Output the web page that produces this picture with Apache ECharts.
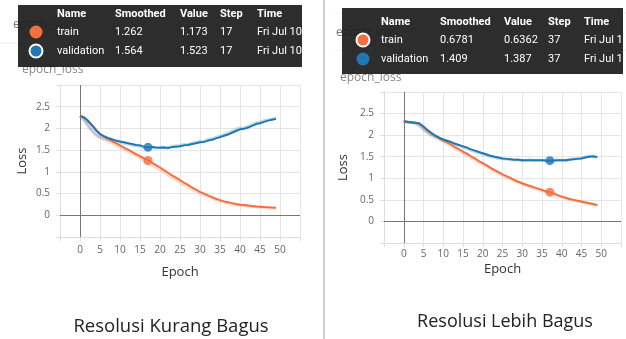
<!DOCTYPE html>
<html><head><meta charset="utf-8">
<script src="https://cdn.jsdelivr.net/npm/echarts@6/dist/echarts.min.js"></script>
<style>html,body{margin:0;padding:0;background:#fff}#c{width:626px;height:339px}</style>
</head><body><div id="c"></div>
<script>
// ---- data ----
const epochs = Array.from({length: 50}, (_, i) => i);
const xTickLabels = [0, 5, 10, 15, 20, 25, 30, 35, 40, 45, 50];
const yTickLabels = [0, 0.5, 1, 1.5, 2, 2.5];

// left panel (Resolusi Kurang Bagus)
const leftTrainSmoothed = [2.29,2.26,2.18,2.08,1.97,1.87,1.81,1.76,1.71,1.66,1.61,1.56,1.51,1.46,1.41,1.36,1.31,1.262,1.21,1.155,1.10,1.04,0.98,0.92,0.865,0.81,0.75,0.70,0.64,0.59,0.54,0.50,0.46,0.42,0.38,0.35,0.32,0.30,0.28,0.26,0.245,0.235,0.225,0.215,0.205,0.198,0.19,0.183,0.177,0.172];
const leftValSmoothed = [2.29,2.25,2.17,2.07,1.96,1.87,1.82,1.78,1.75,1.72,1.70,1.68,1.66,1.64,1.62,1.61,1.58,1.564,1.57,1.56,1.555,1.56,1.55,1.57,1.58,1.59,1.61,1.62,1.64,1.66,1.68,1.69,1.72,1.74,1.77,1.80,1.83,1.86,1.90,1.94,1.98,1.99,2.02,2.06,2.10,2.12,2.15,2.18,2.20,2.22];
const leftTrainRaw = [2.30,2.20,2.06,1.93,1.84,1.79,1.74,1.70,1.66,1.61,1.57,1.52,1.47,1.42,1.37,1.32,1.25,1.173,1.16,1.10,1.05,0.99,0.93,0.87,0.81,0.76,0.70,0.65,0.60,0.55,0.51,0.47,0.43,0.39,0.35,0.32,0.30,0.28,0.26,0.245,0.23,0.225,0.21,0.205,0.195,0.19,0.182,0.176,0.17,0.165];
const leftValRaw = [2.28,2.20,2.08,1.96,1.87,1.80,1.77,1.74,1.72,1.69,1.68,1.66,1.64,1.61,1.60,1.59,1.55,1.523,1.58,1.55,1.56,1.57,1.55,1.59,1.60,1.60,1.63,1.63,1.66,1.68,1.70,1.70,1.75,1.76,1.80,1.83,1.86,1.89,1.94,1.98,2.01,2.01,2.05,2.09,2.13,2.14,2.18,2.20,2.22,2.24];
const leftStep = 17;

// right panel (Resolusi Lebih Bagus)
const rightTrainSmoothed = [2.31,2.30,2.29,2.28,2.26,2.19,2.11,2.04,1.98,1.93,1.88,1.83,1.78,1.72,1.67,1.62,1.57,1.51,1.46,1.40,1.35,1.30,1.24,1.19,1.14,1.09,1.05,1.01,0.96,0.92,0.885,0.85,0.82,0.79,0.76,0.73,0.70,0.678,0.65,0.61,0.575,0.55,0.52,0.50,0.48,0.46,0.44,0.42,0.40,0.38];
const rightValSmoothed = [2.32,2.31,2.30,2.29,2.27,2.20,2.12,2.05,1.99,1.94,1.90,1.87,1.84,1.80,1.77,1.74,1.71,1.67,1.64,1.61,1.58,1.55,1.52,1.50,1.48,1.46,1.45,1.44,1.43,1.43,1.42,1.42,1.42,1.42,1.42,1.42,1.41,1.409,1.41,1.42,1.42,1.42,1.43,1.44,1.45,1.46,1.48,1.50,1.51,1.49];
const rightTrainRaw = [2.32,2.30,2.29,2.27,2.22,2.13,2.06,2.00,1.95,1.90,1.85,1.80,1.75,1.69,1.64,1.59,1.54,1.48,1.43,1.37,1.32,1.27,1.21,1.16,1.11,1.07,1.02,0.98,0.94,0.90,0.86,0.83,0.80,0.77,0.74,0.71,0.68,0.6362,0.62,0.59,0.56,0.53,0.51,0.49,0.47,0.45,0.43,0.41,0.39,0.37];
const rightValRaw = [2.32,2.30,2.29,2.28,2.23,2.14,2.07,2.01,1.96,1.92,1.88,1.85,1.82,1.78,1.75,1.72,1.69,1.65,1.62,1.59,1.56,1.53,1.50,1.48,1.46,1.45,1.44,1.43,1.42,1.43,1.41,1.42,1.43,1.41,1.42,1.42,1.40,1.387,1.42,1.43,1.42,1.41,1.44,1.45,1.46,1.47,1.50,1.52,1.50,1.48];
const rightStep = 37;

const tooltipHeaders = ['Name', 'Smoothed', 'Value', 'Step', 'Time'];
const leftRows = [['train', '1.262', '1.173', '17', 'Fri Jul 10'], ['validation', '1.564', '1.523', '17', 'Fri Jul 10']];
const rightRows = [['train', '0.6781', '0.6362', '37', 'Fri Jul 10'], ['validation', '1.409', '1.387', '37', 'Fri Jul 10']];
const captions = ['Resolusi Kurang Bagus', 'Resolusi Lebih Bagus'];
const chartTitle = 'epoch_loss';

// ---- styling ----
const TRAIN = '#f36f3f', VAL = '#1f78b4';
const FONT = '"Open Sans", "Noto Sans", sans-serif';
const pairs = arr => arr.map((v, i) => [epochs[i], v]);

function axesFor(idx, cfg) {
  const x = {
    type: 'value', gridIndex: idx, min: -5, max: 55, interval: 5,
    name: 'Epoch', nameLocation: 'middle', nameGap: cfg.xNameGap,
    nameTextStyle: {fontFamily: FONT, fontSize: 13, color: '#333'},
    axisLine: {show: true, onZero: false, lineStyle: {color: '#ddd'}},
    axisTick: {show: true, length: 4, lineStyle: {color: '#ddd'}},
    axisLabel: {margin: cfg.xLabelMargin, fontFamily: FONT, fontSize: 10, color: '#666',
      formatter: v => xTickLabels.includes(v) ? String(v) : ''},
    splitLine: {show: true, lineStyle: {color: '#e6e6e6'}}
  };
  const y = {
    type: 'value', gridIndex: idx, min: -0.5, max: 3, interval: 0.5,
    name: 'Loss', nameLocation: 'middle', nameGap: cfg.yNameGap, nameRotate: 90,
    nameTextStyle: {fontFamily: FONT, fontSize: 13, color: '#333'},
    axisLine: {show: true, onZero: false, lineStyle: {color: '#ddd'}},
    axisTick: {show: true, length: 4, lineStyle: {color: '#ddd'}},
    axisLabel: {margin: 10, fontFamily: FONT, fontSize: 10, color: '#666',
      formatter: v => yTickLabels.includes(v) ? String(v) : ''},
    splitLine: {show: true, lineStyle: {color: '#e6e6e6'}}
  };
  return [x, y];
}

function seriesFor(idx, trainRaw, valRaw, trainS, valS, step) {
  const base = {type: 'line', xAxisIndex: idx, yAxisIndex: idx, symbol: 'none', silent: true, animation: false};
  return [
    Object.assign({}, base, {data: pairs(trainRaw), lineStyle: {color: TRAIN, width: 3, opacity: 0.25},
      markLine: {silent: true, symbol: ['none', 'none'], label: {show: false},
        lineStyle: {color: '#777', width: 1, type: 'solid'}, data: [{xAxis: 0}, {yAxis: 0}]}}),
    Object.assign({}, base, {data: pairs(valRaw), lineStyle: {color: VAL, width: 3, opacity: 0.25}}),
    Object.assign({}, base, {data: pairs(trainS), lineStyle: {color: TRAIN, width: 2}}),
    Object.assign({}, base, {data: pairs(valS), lineStyle: {color: VAL, width: 2}}),
    {type: 'scatter', xAxisIndex: idx, yAxisIndex: idx, symbolSize: 9, silent: true, animation: false,
      data: [{value: [epochs[step], trainS[step]], itemStyle: {color: TRAIN}},
             {value: [epochs[step], valS[step]], itemStyle: {color: VAL}}]}
  ];
}

function tooltipBox(b) {
  const els = [];
  els.push({type: 'rect', shape: {x: b.x, y: b.y, width: b.w, height: b.h}, style: {fill: 'rgba(34,34,34,0.95)'}, z: 10});
  tooltipHeaders.forEach((h, i) => {
    els.push({type: 'text', x: b.cols[i], y: b.rowsY[0], z: 11,
      style: {text: h, fill: '#fff', font: 'bold 11px Roboto, sans-serif', textVerticalAlign: 'middle', verticalAlign: 'middle'}});
  });
  b.rows.forEach((r, ri) => {
    r.forEach((t, ci) => {
      els.push({type: 'text', x: b.cols[ci], y: b.rowsY[ri + 1], z: 11,
        style: {text: t, fill: '#fff', font: '11px Roboto, sans-serif', textVerticalAlign: 'middle', verticalAlign: 'middle'}});
    });
    const stroke = b.outlined === ri;
    els.push({type: 'circle', shape: {cx: b.cx, cy: b.rowsY[ri + 1], r: 6.5}, z: 11,
      style: {fill: ri === 0 ? TRAIN : VAL, stroke: stroke ? '#fff' : null, lineWidth: stroke ? 2 : 0}});
  });
  return els;
}

const graphics = [];
// card separators and background titles
graphics.push({type: 'line', shape: {x1: 0, y1: 43, x2: 320, y2: 43}, style: {stroke: '#eee', lineWidth: 1}});
graphics.push({type: 'line', shape: {x1: 335, y1: 13, x2: 626, y2: 13}, style: {stroke: '#eee', lineWidth: 1}});
graphics.push({type: 'line', shape: {x1: 335, y1: 50, x2: 626, y2: 50}, style: {stroke: '#eee', lineWidth: 1}});
graphics.push({type: 'text', x: 13, y: 25, style: {text: chartTitle, fill: '#777', font: '12px ' + FONT, textVerticalAlign: 'middle', verticalAlign: 'middle'}});
graphics.push({type: 'text', x: 22, y: 70, style: {text: chartTitle, fill: '#888', font: '12px ' + FONT, textVerticalAlign: 'middle', verticalAlign: 'middle'}});
graphics.push({type: 'text', x: 336, y: 33, style: {text: chartTitle, fill: '#777', font: '12px ' + FONT, textVerticalAlign: 'middle', verticalAlign: 'middle'}});
graphics.push({type: 'text', x: 340, y: 78, style: {text: chartTitle, fill: '#888', font: '12px ' + FONT, textVerticalAlign: 'middle', verticalAlign: 'middle'}});
// tooltip boxes
graphics.push(...tooltipBox({x: 18, y: 5, w: 284, h: 62, cols: [57, 115, 180, 220, 257], rowsY: [14, 32, 51], cx: 36, rows: leftRows, outlined: 1}));
graphics.push({type: 'rect', shape: {x: 302, y: 0, width: 21, height: 80}, style: {fill: '#fff'}, z: 12});
graphics.push(...tooltipBox({x: 342, y: 8, w: 281, h: 66, cols: [381, 440, 504, 548, 584], rowsY: [22, 40, 59], cx: 363, rows: rightRows, outlined: 0}));
// divider
graphics.push({type: 'line', shape: {x1: 324, y1: 0, x2: 324, y2: 339}, style: {stroke: '#d0d0d0', lineWidth: 2}, z: 13});
// captions
graphics.push({type: 'text', x: 171, y: 327, style: {text: captions[0], fill: '#222', font: '18.5px ' + FONT, textAlign: 'center', align: 'center', textVerticalAlign: 'middle', verticalAlign: 'middle'}});
graphics.push({type: 'text', x: 505, y: 322, style: {text: captions[1], fill: '#222', font: '18px ' + FONT, textAlign: 'center', align: 'center', textVerticalAlign: 'middle', verticalAlign: 'middle'}});

const [lx, ly] = axesFor(0, {xNameGap: 29, xLabelMargin: 8, yNameGap: 31});
const [rx, ry] = axesFor(1, {xNameGap: 20, xLabelMargin: 6, yNameGap: 34});

const option = {
  animation: false,
  grid: [
    {left: 60, top: 85, width: 240, height: 152},
    {left: 384, top: 92, width: 237, height: 151}
  ],
  xAxis: [lx, rx],
  yAxis: [ly, ry],
  series: [
    ...seriesFor(0, leftTrainRaw, leftValRaw, leftTrainSmoothed, leftValSmoothed, leftStep),
    ...seriesFor(1, rightTrainRaw, rightValRaw, rightTrainSmoothed, rightValSmoothed, rightStep)
  ],
  graphic: {elements: graphics}
};
const chart = echarts.init(document.getElementById('c'), null, {renderer: 'canvas'});
chart.setOption(option);
</script>
</body></html>
